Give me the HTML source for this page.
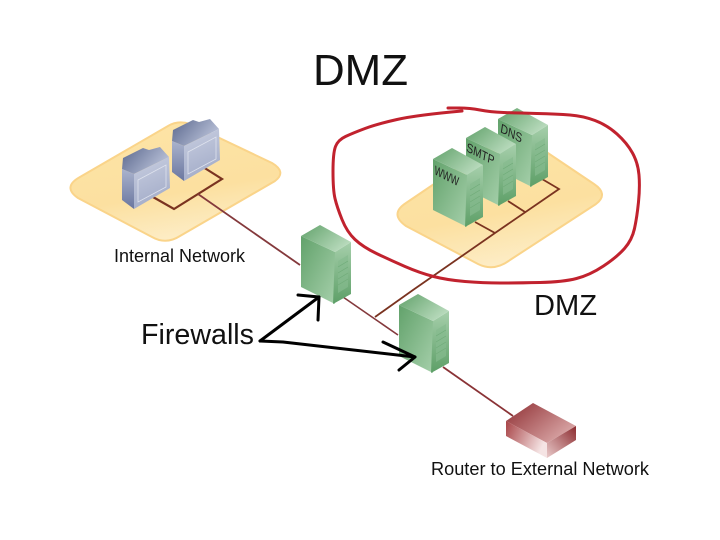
<!DOCTYPE html>
<html><head><meta charset="utf-8"><style>
html,body{margin:0;padding:0;background:#fff}
svg{display:block;font-family:"Liberation Sans",sans-serif}
</style></head><body>
<svg width="720" height="540" viewBox="0 0 720 540" xmlns="http://www.w3.org/2000/svg">
<defs>
<linearGradient id="plat" x1="0.3" y1="0" x2="0.6" y2="1"><stop offset="0" stop-color="#fde4a6"/><stop offset="0.6" stop-color="#fce0a0"/><stop offset="1" stop-color="#fdeeca"/></linearGradient>
<linearGradient id="gl" x1="0" y1="0" x2="1" y2="1"><stop offset="0" stop-color="#62a26b"/><stop offset="1" stop-color="#a5cfaa"/></linearGradient>
<linearGradient id="gr" x1="0" y1="0" x2="0" y2="1"><stop offset="0" stop-color="#a6cfab"/><stop offset="1" stop-color="#5d9f67"/></linearGradient>
<linearGradient id="gt" x1="0" y1="0" x2="1" y2="0.6"><stop offset="0" stop-color="#62a26b"/><stop offset="1" stop-color="#b8dabc"/></linearGradient>
<linearGradient id="bf" x1="0" y1="0" x2="0.3" y2="1"><stop offset="0" stop-color="#c9cfe1"/><stop offset="1" stop-color="#a4adc9"/></linearGradient>
<linearGradient id="bs" x1="0" y1="0" x2="0" y2="1"><stop offset="0" stop-color="#aab3cd"/><stop offset="1" stop-color="#6a769f"/></linearGradient>
<linearGradient id="bt" x1="0" y1="0" x2="1" y2="0.5"><stop offset="0" stop-color="#5a678d"/><stop offset="1" stop-color="#b9c1d8"/></linearGradient>
<linearGradient id="rt" x1="0" y1="0" x2="1" y2="0.7"><stop offset="0" stop-color="#8f2f33"/><stop offset="1" stop-color="#dba9a9"/></linearGradient>
<linearGradient id="rl" x1="0" y1="0" x2="1" y2="0.4"><stop offset="0" stop-color="#a84447"/><stop offset="1" stop-color="#f5e4e4"/></linearGradient>
<linearGradient id="rr" x1="0" y1="1" x2="1" y2="0"><stop offset="0" stop-color="#e9caca"/><stop offset="1" stop-color="#8c2b2f"/></linearGradient>
<g id="srv">
<polygon points="0,11 34,27 34,79 0,62" fill="url(#gl)"/>
<polygon points="34,27 50,17 50,69 32,79" fill="url(#gr)"/>
<polygon points="19,0 50,17 34,27 0,11" fill="url(#gt)"/>
<polygon points="37,36 47,30 47,62 37,68" fill="#86ba8e" opacity=".7"/>
<path d="M37,42 47,36 M37,48 47,42 M37,54 47,48 M37,60 47,54" stroke="#70ab79" stroke-width=".7" fill="none"/>
</g>
<g id="mon">
<polygon points="1,11 21,1 27,3 38,0 47,10 12,27 0,22" fill="url(#bt)"/>
<polygon points="0,22 12,27 12,62 0,53" fill="url(#bs)"/>
<polygon points="12,27 47,10 48,41 12,62" fill="url(#bf)"/>
<polygon points="16,33 44,18 44,40 16,55" fill="none" stroke="#dfe3ee" stroke-width=".8"/>
</g>
</defs>

<rect width="720" height="540" fill="#fff"/>

<!-- platforms -->
<path d="M80,177 L168,126 Q178,120 190,124 L272,163 Q287,172 275,181 L180,236 Q166,245 152,237 L78,198 Q62,187 80,177Z" fill="url(#plat)" stroke="#fad48a" stroke-width="2"/>
<path d="M406,203 L505,136 Q515,130 527,139 L594,184 Q609,194 596,204 L510,260 Q494,272 478,264 L406,226 Q389,214 406,203Z" fill="url(#plat)" stroke="#fad48a" stroke-width="2"/>

<!-- lines -->
<g fill="none" stroke-linejoin="miter">
<path d="M153,197 174,209 222,179 203,167" stroke="#7a3320" stroke-width="2.2"/>
<path d="M198,194 300,265" stroke="#84393c" stroke-width="1.8"/>
<path d="M343,297 398,335" stroke="#84393c" stroke-width="1.6"/>
<path d="M375,317 413,290 495,233 559,189 542,179" stroke="#7a3320" stroke-width="1.8"/>
<path d="M495,233 475,222 M525,212 508,201" stroke="#7a3320" stroke-width="1.8"/>
<path d="M443,367 513,416" stroke="#8a3336" stroke-width="1.8"/>
</g>

<!-- monitors -->
<use href="#mon" x="172" y="119"/>
<use href="#mon" x="122" y="147"/>

<!-- servers -->
<use href="#srv" x="498" y="108"/>
<use href="#srv" x="466" y="127"/>
<use href="#srv" x="433" y="148"/>
<use href="#srv" x="301" y="225"/>
<use href="#srv" x="399" y="294"/>

<!-- server labels -->
<g fill="#222" font-size="12">
<text transform="translate(500,132) rotate(27) skewX(18)" textLength="24" lengthAdjust="spacingAndGlyphs">DNS</text>
<text transform="translate(466,151) rotate(27) skewX(18)" textLength="31" lengthAdjust="spacingAndGlyphs">SMTP</text>
<text transform="translate(434,174) rotate(27) skewX(18)" textLength="27" lengthAdjust="spacingAndGlyphs">WWW</text>
</g>

<!-- router -->
<polygon points="533,403 576,426 547,443 506,421" fill="url(#rt)"/>
<polygon points="506,421 547,443 547,458 506,436" fill="url(#rl)"/>
<polygon points="547,443 576,426 576,440 547,458" fill="url(#rr)"/>

<!-- red freehand outline -->
<path d="M448,108 L459,108 Q470,108 480,110 Q490,112 503.5,112.5 Q517,113 537,113.5 Q557,114 570,115 Q583,116 595,120.5 Q607,125 617,134 Q627,143 632.5,153 Q638,163 639,175 Q640,187 638.5,202 Q637,217 634.5,228.5 Q632,240 624.5,248.5 Q617,257 603.5,266 Q590,275 576.5,278.5 Q563,282 540,282.5 Q517,283 500,283 Q483,283 465,281.5 Q447,280 433.5,276.5 Q420,273 405,266.5 Q390,260 376.5,253.5 Q363,247 355,239.5 Q347,232 342,219.5 Q337,207 335,198.5 Q333,190 333,171.5 Q333,153 335.5,146.5 Q338,140 345.5,136.5 Q353,133 365,128.5 Q377,124 397,119.5 Q417,115 462,111" fill="none" stroke="#c1222e" stroke-width="3" stroke-linejoin="round" stroke-linecap="round"/>

<!-- black arrows -->
<g fill="none" stroke="#000" stroke-width="3" stroke-linecap="round" stroke-linejoin="round">
<path d="M260,341 319,297"/>
<path d="M298,295 319,297 318,320"/>
<path d="M260,341 283,342 415,357"/>
<path d="M383,342 415,357 399,370"/>
</g>

<!-- text -->
<g fill="#111">
<text x="313" y="85" font-size="44" textLength="95" lengthAdjust="spacingAndGlyphs">DMZ</text>
<text x="534" y="315" font-size="29" textLength="63" lengthAdjust="spacingAndGlyphs">DMZ</text>
<text x="114" y="262" font-size="18" textLength="131" lengthAdjust="spacingAndGlyphs">Internal Network</text>
<text x="141" y="344" font-size="28.5" textLength="113" lengthAdjust="spacingAndGlyphs">Firewalls</text>
<text x="431" y="475" font-size="18" textLength="218" lengthAdjust="spacingAndGlyphs">Router to External Network</text>
</g>
</svg>
</body></html>
